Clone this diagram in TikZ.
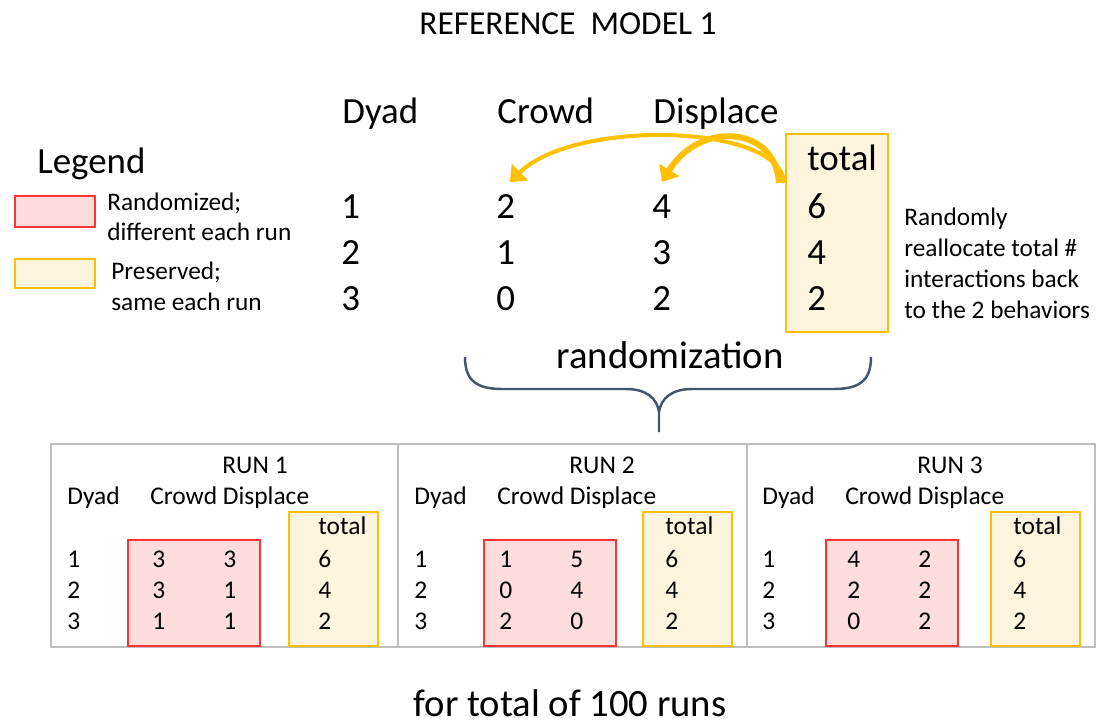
\documentclass[tikz,border=0pt]{standalone}
\usepackage{fontspec}
\setmainfont{Carlito}
\usetikzlibrary{arrows.meta}
\definecolor{randFill}{RGB}{255,221,221}
\definecolor{randLine}{RGB}{255,51,51}
\definecolor{keepFill}{RGB}{255,245,222}
\definecolor{keepLine}{RGB}{255,192,0}
\definecolor{arrowGold}{RGB}{255,192,0}
\definecolor{arrowDark}{RGB}{201,158,0}
\definecolor{braceGray}{RGB}{68,84,106}
\definecolor{frameGray}{RGB}{191,191,191}
\newcommand{\titlesize}{\fontsize{19}{23}\selectfont}
\newcommand{\hdrsize}{\fontsize{21}{25}\selectfont}
\newcommand{\notesize}{\fontsize{14.4}{17}\selectfont}
\newcommand{\runsize}{\fontsize{14.5}{17}\selectfont}
\newcommand{\capsize}{\fontsize{22}{26}\selectfont}

\begin{document}
\begin{tikzpicture}[x=0.02cm, y=-0.02cm,
    txt/.style={inner sep=0pt, anchor=base west},
    randbox/.style={draw=randLine, fill=randFill, line width=1.1pt},
    keepbox/.style={draw=keepLine, fill=keepFill, line width=1.1pt},
    goldarrow/.style={draw=arrowGold, -{Triangle[width=13pt,length=8pt]}}]
    \useasboundingbox (0,0) rectangle (1097,725);

    % Title
    \node[txt, anchor=base, font=\titlesize] (title) at (568,34) {REFERENCE\ \ MODEL 1};

    % Legend
    \node[txt, font=\hdrsize] (legend) at (37,173) {Legend};
    \draw[randbox] (15,196) rectangle (95,227);
    \draw[keepbox] (15,259) rectangle (95,288);
    \node[txt, font=\notesize] (legRandA) at (107,210) {Randomized;};
    \node[txt, font=\notesize] (legRandB) at (107,240) {different each run};
    \node[txt, font=\notesize] (legKeepA) at (111,279) {Preserved;};
    \node[txt, font=\notesize] (legKeepB) at (111,310) {same each run};

    % Observed table
    \draw[keepbox] (786,134) rectangle (888,332);
    \node[txt, font=\hdrsize] (hdrDyad) at (342,123) {Dyad};
    \node[txt, font=\hdrsize] (hdrCrowd) at (497,123) {Crowd};
    \node[txt, font=\hdrsize] (hdrDisp) at (653,123) {Displace};
    \node[txt, font=\hdrsize] (hdrTotal) at (807,170) {total};
    \foreach \d/\c/\p/\t [count=\i] in {1/2/4/6, 2/1/3/4, 3/0/2/2} {
        \node[txt, font=\hdrsize] (obsD\i) at (341,{218+46*(\i-1)}) {\d};
        \node[txt, font=\hdrsize] (obsC\i) at (496,{218+46*(\i-1)}) {\c};
        \node[txt, font=\hdrsize] (obsP\i) at (652,{218+46*(\i-1)}) {\p};
        \node[txt, font=\hdrsize] (obsT\i) at (807,{218+46*(\i-1)}) {\t};
    }

    % Reallocation arrows
    \coordinate (tailC) at (784,183);
    \coordinate (tailP) at (779,183);
    \coordinate (tipC) at (510,182);
    \coordinate (tipP) at (662,182);
    \draw[goldarrow, line width=2.3pt] (tailC) .. controls (782,124) and (575,118) .. (tipC);
    \draw[goldarrow, line width=3.4pt] (tailP) .. controls (776,126) and (700,120) .. (tipP);

    % Note
    \foreach \line [count=\i] in {Randomly, reallocate total \#, interactions back, to the 2 behaviors}
        \node[txt, font=\notesize] (note\i) at (904,{225+31*(\i-1)}) {\line};

    % Brace
    \draw[braceGray, line width=1.4pt]
        (465,357) .. controls (465,382) and (478,389) .. (503,389) -- (626,389)
        .. controls (646,389) and (657,398) .. (659,412) -- (659,432);
    \draw[braceGray, line width=1.4pt]
        (871,357) .. controls (871,382) and (858,389) .. (833,389) -- (692,389)
        .. controls (672,389) and (661,398) .. (659,412);
    \node[txt, anchor=base, font=\capsize] (randLabel) at (670,368) {randomization};

    % Runs
    \draw[frameGray, line width=1.2pt] (51,444) rectangle (1095,647);
    \draw[frameGray, line width=1.2pt] (398,444) -- (398,647);
    \draw[frameGray, line width=1.2pt] (747,444) -- (747,647);
    \foreach \n/\dx/\rb/\kb/\ca/\cb/\cc/\pa/\pb/\pc in
        {1/0/128/289/3/3/1/3/1/1, 2/347/484/643/1/0/2/5/4/0, 3/695/826/991/4/2/0/2/2/2} {
        \draw[randbox] (\rb,540) rectangle ({\rb+132},646);
        \draw[keepbox] (\kb,512) rectangle ({\kb+89},646);
        \node[txt, anchor=base, font=\runsize] (run\n) at ({255+\dx},473) {RUN \n};
        \node[txt, font=\runsize] (run\n Dyad) at ({67+\dx},504) {Dyad};
        \node[txt, font=\runsize] (run\n Beh) at ({150+\dx},504) {Crowd Displace};
        \node[txt, font=\runsize] (run\n Total) at ({318+\dx},534) {total};
        \foreach \d/\c/\p/\t [count=\i] in {1/\ca/\pa/6, 2/\cb/\pb/4, 3/\cc/\pc/2} {
            \node[txt, font=\runsize] (run\n D\i) at ({67+\dx},{567+31*(\i-1)}) {\d};
            \node[txt, font=\runsize] (run\n C\i) at ({152+\dx},{567+31*(\i-1)}) {\c};
            \node[txt, font=\runsize] (run\n P\i) at ({223+\dx},{567+31*(\i-1)}) {\p};
            \node[txt, font=\runsize] (run\n T\i) at ({318+\dx},{567+31*(\i-1)}) {\t};
        }
    }

    % Footer
    \node[txt, anchor=base, font=\capsize] (footer) at (570,716) {for total of 100 runs};
\end{tikzpicture}
\end{document}
